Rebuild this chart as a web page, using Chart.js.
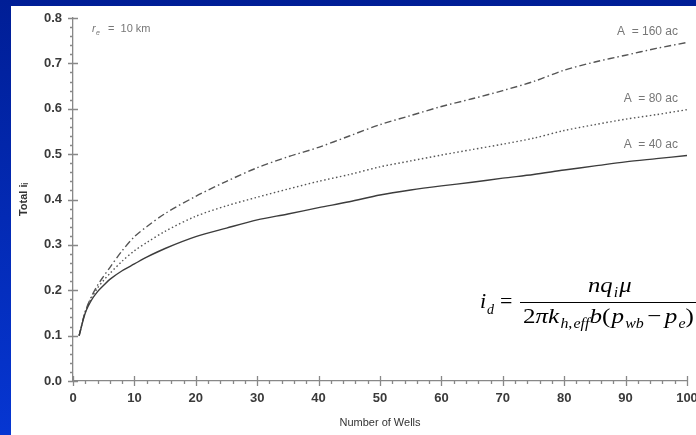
<!DOCTYPE html>
<html>
<head>
<meta charset="utf-8">
<script src="https://cdn.jsdelivr.net/npm/chart.js@4.4.1/dist/chart.umd.min.js"></script>
<style>
  html, body { margin: 0; padding: 0; }
  body {
    width: 696px; height: 435px; overflow: hidden; position: relative;
    background: linear-gradient(to bottom, #001e96, #0636d2);
  }
  #panel { position: absolute; left: 11px; top: 6px; width: 685px; height: 429px; background: #fff; }
  canvas { display: block; }
</style>
</head>
<body>
<div id="panel"><canvas id="chartIndice" width="685" height="429"></canvas></div>
<script>
// dados
const wells = [1, 2, 3, 4, 5, 6, 8, 10, 12, 15, 20, 25, 30, 35, 40, 45, 50, 55, 60, 65, 70, 75, 80, 85, 90, 95, 100];
const area40 = [0.100, 0.150, 0.178, 0.197, 0.211, 0.224, 0.243, 0.258, 0.273, 0.292, 0.318, 0.337, 0.355, 0.368, 0.382, 0.395, 0.410, 0.421, 0.430, 0.438, 0.447, 0.455, 0.465, 0.474, 0.483, 0.490, 0.497];
const area80 = [0.100, 0.152, 0.183, 0.205, 0.222, 0.237, 0.264, 0.287, 0.305, 0.330, 0.363, 0.386, 0.405, 0.423, 0.440, 0.455, 0.472, 0.485, 0.498, 0.510, 0.522, 0.535, 0.552, 0.565, 0.577, 0.587, 0.598];
const area160 = [0.100, 0.153, 0.186, 0.211, 0.231, 0.250, 0.287, 0.318, 0.340, 0.369, 0.407, 0.440, 0.470, 0.494, 0.515, 0.540, 0.565, 0.585, 0.605, 0.622, 0.640, 0.660, 0.685, 0.703, 0.718, 0.733, 0.746];
const seriesLabels = ['A = 40 ac', 'A = 80 ac', 'A = 160 ac'];
const xTicks = [0, 10, 20, 30, 40, 50, 60, 70, 80, 90, 100];
const yTicks = [0.0, 0.1, 0.2, 0.3, 0.4, 0.5, 0.6, 0.7, 0.8];

function pts(ys) {
  return wells.map((w, i) => ({ x: w, y: ys[i] }));
}

// marcas menores e textos do gráfico
const extrasPlugin = {
  id: 'extras',
  afterDraw(chart) {
    const ctx = chart.ctx;
    const xs = chart.scales.x, ys = chart.scales.y;
    const left = chart.chartArea.left, bottom = chart.chartArea.bottom;
    ctx.save();
    ctx.strokeStyle = '#888';
    ctx.lineWidth = 1.3;
    ctx.beginPath();
    for (let i = 0; i <= 40; i++) {
      const py = Math.round(ys.getPixelForValue(i * 0.02)) + 0.5;
      if (i % 5 === 0) { ctx.moveTo(left - 5, py); ctx.lineTo(left + 5, py); }
      else { ctx.moveTo(left - 3, py); ctx.lineTo(left, py); }
    }
    for (let i = 0; i <= 50; i++) {
      const px = Math.round(xs.getPixelForValue(i * 2)) + 0.5;
      if (i % 5 === 0) { ctx.moveTo(px, bottom - 5); ctx.lineTo(px, bottom + 5); }
      else { ctx.moveTo(px, bottom); ctx.lineTo(px, bottom + 3); }
    }
    ctx.stroke();

    // r_e = 10 km
    ctx.fillStyle = '#777';
    ctx.textBaseline = 'alphabetic';
    ctx.textAlign = 'left';
    ctx.font = 'italic 11px "Liberation Sans", Arial';
    ctx.fillText('r', 81, 26);
    ctx.font = 'italic 7px "Liberation Sans", Arial';
    ctx.fillText('e', 85, 29);
    ctx.font = '11px "Liberation Sans", Arial';
    ctx.fillText('=  10 km', 97, 26);

    // rótulos das curvas
    ctx.textAlign = 'right';
    ctx.font = '12px "Liberation Sans", Arial';
    ctx.fillText('A  = 160 ac', 667, 29);
    ctx.fillText('A  = 80 ac', 667, 96);
    ctx.fillText('A  = 40 ac', 667, 142);

    // fórmula
    ctx.fillStyle = '#000';
    ctx.strokeStyle = '#000';
    ctx.textAlign = 'left';
    const big = 'italic 22px "Liberation Serif", "Times New Roman", serif';
    const bigUp = '22px "Liberation Serif", "Times New Roman", serif';
    const sub = 'italic 14px "Liberation Serif", "Times New Roman", serif';
    const subUp = '14px "Liberation Serif", "Times New Roman", serif';
    function run(x, y, sx, parts) {
      ctx.save();
      ctx.translate(x, y);
      ctx.scale(sx, 1);
      let cx = 0;
      parts.forEach(p => {
        ctx.font = p[1];
        ctx.fillText(p[0], cx, p[2] || 0);
        cx += ctx.measureText(p[0]).width + (p[3] || 0);
      });
      ctx.restore();
    }
    const ox = -11, oy = -6;
    run(480 + ox, 308 + oy, 1, [['i', big, 0, 1], ['d', sub, 6]]);
    run(500 + ox, 308 + oy, 1, [['=', bigUp]]);
    ctx.lineWidth = 1;
    ctx.beginPath();
    ctx.moveTo(520 + ox, 302.5 + oy);
    ctx.lineTo(700 + ox, 302.5 + oy);
    ctx.stroke();
    run(588 + ox, 292 + oy, 1.12, [['n', big], ['q', big, 0, 1], ['i', sub, 5, 1], ['μ', big]]);
    run(523 + ox, 323 + oy, 1.14, [
      ['2', bigUp], ['π', big], ['k', big, 0, 1], ['h', sub, 5], [',', subUp, 5, 1], ['eff', sub, 5], ['b', big],
      ['(', bigUp, 0, 1], ['p', big, 0, 1], ['wb', sub, 5, 3], ['−', bigUp, 0, 3], ['p', big, 0, 1], ['e', sub, 5], [')', bigUp]
    ]);
    ctx.restore();
  }
};

document.addEventListener('DOMContentLoaded', function() {
  const el = document.getElementById('chartIndice');
  new Chart(el, {
    type: 'line',
    data: {
      datasets: [
        { label: seriesLabels[0], data: pts(area40), borderColor: '#3c3c3c', borderWidth: 1.4 },
        { label: seriesLabels[1], data: pts(area80), borderColor: '#555', borderWidth: 1.4, borderDash: [1.5, 2.5] },
        { label: seriesLabels[2], data: pts(area160), borderColor: '#555', borderWidth: 1.4, borderDash: [7, 3, 1.5, 3] }
      ]
    },
    options: {
      responsive: false,
      animation: false,
      events: [],
      layout: { padding: { left: 0, top: 12, right: 9, bottom: 0 } },
      elements: { point: { radius: 0 }, line: { tension: 0.3, fill: false } },
      plugins: { legend: { display: false }, tooltip: { enabled: false } },
      scales: {
        x: {
          type: 'linear', min: 0, max: 100,
          afterBuildTicks: s => { s.ticks = xTicks.map(v => ({ value: v })); },
          afterFit: s => { s.height = 54; s.paddingLeft = 0; s.paddingRight = 0; },
          grid: { display: false, drawTicks: false },
          border: { display: true, color: '#888', width: 1.3 },
          ticks: { padding: 10, color: '#3a3a3a', font: { family: '"Liberation Sans", Arial', size: 13, weight: 'bold' }, maxRotation: 0 },
          title: { display: true, text: 'Number of Wells', color: '#333', font: { family: '"Liberation Sans", Arial', size: 11 }, padding: { top: 4, bottom: 5 } }
        },
        y: {
          type: 'linear', min: 0, max: 0.8,
          afterBuildTicks: s => { s.ticks = yTicks.map(v => ({ value: v })); },
          afterFit: s => { s.width = 62; s.paddingTop = 0; s.paddingBottom = 0; },
          grid: { display: false, drawTicks: false },
          border: { display: true, color: '#888', width: 1.3 },
          ticks: { padding: 11, color: '#3a3a3a', font: { family: '"Liberation Sans", Arial', size: 13, weight: 'bold' }, callback: v => v.toFixed(1) },
          title: { display: true, text: 'Total iᵢ', color: '#333', font: { family: '"Liberation Sans", Arial', size: 11, weight: 'bold' }, padding: { top: 6, bottom: 0 } }
        }
      }
    },
    plugins: [extrasPlugin]
  });
});
</script>
</body>
</html>
